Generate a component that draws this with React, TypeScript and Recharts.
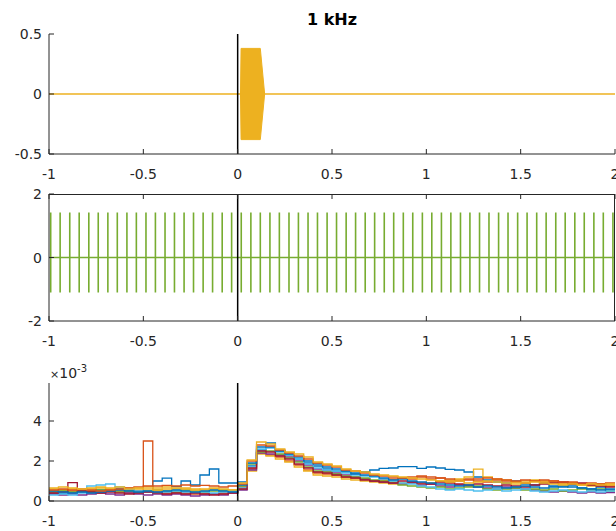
import { Area, ComposedChart, Line, ReferenceLine, XAxis, YAxis } from "recharts";

const FONT = "'DejaVu Sans', sans-serif";
const AXIS = "#262626";
const X_TICKS = [-1, -0.5, 0, 0.5, 1, 1.5, 2];

// panel 1: 1 kHz tone burst (drawn as its envelope band)
const TONE_T = [-1, 0.015, 0.018, 0.12, 0.143, 2];
const TONE_LOW = [0, 0, -0.38, -0.38, 0, 0];
const TONE_HIGH = [0, 0, 0.38, 0.38, 0, 0];

// panel 2: click train
const PULSE_T = [
  -0.991, -0.941, -0.89, -0.84, -0.789, -0.739, -0.688, -0.638, -0.587, -0.537,
  -0.486, -0.436, -0.385, -0.335, -0.284, -0.234, -0.183, -0.133, -0.082, -0.032,
  0.019, 0.07, 0.12, 0.171, 0.221, 0.272, 0.322, 0.373, 0.423, 0.474,
  0.524, 0.575, 0.625, 0.676, 0.726, 0.777, 0.827, 0.878, 0.928, 0.979,
  1.029, 1.08, 1.13, 1.181, 1.231, 1.282, 1.332, 1.383, 1.433, 1.484,
  1.534, 1.585, 1.635, 1.686, 1.736, 1.787, 1.837, 1.888, 1.938, 1.989,
];
const PULSE_TOP = 1.42;
const PULSE_BOTTOM = -1.1;

// panel 3: per-trial histograms (units of 1e-3), 0.05 s bins
const BIN_EDGES = [
  -1, -0.95, -0.9, -0.85, -0.8, -0.75, -0.7, -0.65, -0.6, -0.55,
  -0.5, -0.45, -0.4, -0.35, -0.3, -0.25, -0.2, -0.15, -0.1, -0.05,
  0, 0.05, 0.1, 0.15, 0.2, 0.25, 0.3, 0.35, 0.4, 0.45,
  0.5, 0.55, 0.6, 0.65, 0.7, 0.75, 0.8, 0.85, 0.9, 0.95,
  1, 1.05, 1.1, 1.15, 1.2, 1.25, 1.3, 1.35, 1.4, 1.45,
  1.5, 1.55, 1.6, 1.65, 1.7, 1.75, 1.8, 1.85, 1.9, 1.95, 2,
];

const TRIAL_1 = [0.4, 0.38, 0.42, 0.45, 0.5, 0.55, 0.5, 0.6, 0.55, 0.5, 0.45, 1.0, 1.14, 0.72, 1.0, 0.8, 1.3, 1.6, 0.9, 0.9,
  0.95, 1.75, 2.55, 2.9, 2.5, 2.3, 2.1, 1.9, 1.75, 1.6, 1.5, 1.45, 1.4, 1.45, 1.55, 1.63, 1.65, 1.72, 1.72, 1.63,
  1.7, 1.65, 1.58, 1.55, 1.45, 1.2, 1.05, 0.95, 0.9, 1.0, 0.85, 0.8, 0.9, 0.75, 0.7, 0.8, 0.65, 0.6, 0.7, 0.55];
const TRIAL_2 = [0.5, 0.55, 0.5, 0.45, 0.5, 0.45, 0.55, 0.5, 0.45, 0.5, 3.0, 0.45, 0.4, 0.45, 0.4, 0.35, 0.4, 0.35, 0.4, 0.45,
  0.7, 1.6, 2.4, 2.3, 2.2, 2.0, 1.8, 1.55, 1.4, 1.35, 1.3, 1.2, 1.15, 1.1, 1.0, 1.05, 1.1, 1.15, 1.1, 1.2,
  1.1, 1.15, 1.0, 1.05, 1.1, 1.0, 0.95, 1.05, 1.0, 0.95, 0.9, 1.0, 0.95, 1.0, 0.9, 0.95, 0.85, 0.8, 0.85, 0.75];
const TRIAL_3 = [0.6, 0.55, 0.6, 0.55, 0.6, 0.65, 0.6, 0.55, 0.65, 0.6, 0.7, 0.65, 0.7, 0.6, 0.65, 0.6, 0.55, 0.6, 0.5, 0.55,
  0.6, 1.5, 2.35, 2.25, 2.1, 1.95, 1.7, 1.5, 1.3, 1.25, 1.2, 1.1, 1.05, 1.0, 0.95, 0.9, 0.85, 0.9, 0.95, 0.85,
  0.9, 1.0, 1.05, 1.1, 1.2, 1.59, 1.2, 1.1, 1.05, 0.95, 1.0, 1.05, 1.0, 0.95, 0.85, 0.9, 0.8, 0.75, 0.85, 0.8];
const TRIAL_4 = [0.35, 0.3, 0.35, 0.3, 0.35, 0.4, 0.35, 0.3, 0.4, 0.35, 0.3, 0.35, 0.3, 0.35, 0.3, 0.25, 0.3, 0.35, 0.3, 0.4,
  0.55, 1.55, 2.4, 2.35, 2.3, 2.2, 2.0, 1.8, 1.6, 1.5, 1.4, 1.3, 1.2, 1.1, 1.0, 0.95, 0.9, 0.85, 0.9, 0.8,
  0.85, 0.75, 0.7, 0.8, 0.75, 0.7, 0.65, 0.6, 0.7, 0.65, 0.6, 0.55, 0.5, 0.45, 0.5, 0.45, 0.4, 0.45, 0.4, 0.42];
const TRIAL_5 = [0.45, 0.5, 0.45, 0.5, 0.45, 0.55, 0.5, 0.45, 0.5, 0.45, 0.5, 0.55, 0.5, 0.45, 0.55, 0.5, 0.45, 0.5, 0.55, 0.5,
  0.75, 1.85, 2.45, 2.5, 2.35, 2.15, 1.95, 1.7, 1.5, 1.45, 1.35, 1.25, 1.2, 1.15, 1.05, 1.0, 0.95, 0.8, 0.75, 0.7,
  0.65, 0.7, 0.6, 0.65, 0.7, 0.75, 0.6, 0.55, 0.6, 0.65, 0.55, 0.6, 0.55, 0.6, 0.5, 0.55, 0.6, 0.55, 0.6, 0.5];
const TRIAL_6 = [0.3, 0.35, 0.3, 0.4, 0.75, 0.8, 0.85, 0.7, 0.6, 0.5, 0.45, 0.4, 0.45, 0.5, 0.45, 0.4, 0.45, 0.4, 0.45, 0.5,
  0.65, 1.7, 2.6, 2.65, 2.45, 2.3, 2.1, 1.85, 1.65, 1.55, 1.5, 1.4, 1.3, 1.25, 1.2, 1.1, 1.0, 0.9, 0.85, 0.75,
  0.7, 0.6, 0.55, 0.6, 0.55, 0.5, 0.55, 0.6, 0.5, 0.55, 0.6, 0.5, 0.45, 0.5, 0.55, 0.5, 0.45, 0.5, 0.45, 0.5];
const TRIAL_7 = [0.4, 0.45, 0.92, 0.5, 0.45, 0.4, 0.45, 0.4, 0.35, 0.4, 0.45, 0.4, 0.35, 0.4, 0.35, 0.4, 0.35, 0.3, 0.35, 0.4,
  0.6, 1.65, 2.5, 2.45, 2.25, 2.1, 1.85, 1.65, 1.45, 1.4, 1.3, 1.2, 1.15, 1.05, 1.0, 0.95, 0.9, 1.0, 0.95, 0.9,
  0.85, 0.95, 0.9, 0.85, 0.8, 0.85, 0.8, 0.75, 0.8, 0.75, 0.7, 0.8, 0.85, 0.9, 0.95, 0.85, 0.9, 0.8, 0.75, 0.7];
const TRIAL_8 = [0.5, 0.45, 0.4, 0.45, 0.4, 0.45, 0.5, 0.55, 0.5, 0.45, 0.5, 0.45, 0.5, 0.55, 0.5, 0.45, 0.5, 0.55, 0.5, 0.45,
  0.8, 1.9, 2.7, 2.7, 2.5, 2.35, 2.2, 2.0, 1.85, 1.7, 1.6, 1.5, 1.35, 1.3, 1.25, 1.15, 1.05, 1.1, 1.0, 0.95,
  0.9, 0.85, 0.8, 0.75, 0.8, 0.7, 0.75, 0.7, 0.65, 0.7, 0.75, 0.7, 0.65, 0.7, 0.75, 0.7, 0.65, 0.6, 0.55, 0.6];
const TRIAL_9 = [0.55, 0.6, 0.55, 0.6, 0.55, 0.5, 0.55, 0.6, 0.65, 0.7, 0.75, 0.75, 0.78, 0.75, 0.8, 0.75, 0.78, 0.75, 0.7, 0.75,
  0.85, 2.0, 2.8, 2.75, 2.55, 2.4, 2.25, 2.1, 1.9, 1.8, 1.7, 1.55, 1.5, 1.4, 1.3, 1.25, 1.2, 1.15, 1.2, 1.25,
  1.2, 1.15, 1.1, 1.0, 1.05, 1.1, 1.15, 1.1, 1.05, 1.0, 1.05, 1.0, 1.05, 1.0, 0.95, 0.9, 0.85, 0.9, 0.85, 0.9];
const TRIAL_10 = [0.65, 0.7, 0.65, 0.6, 0.65, 0.7, 0.65, 0.7, 0.6, 0.65, 0.6, 0.55, 0.6, 0.65, 0.6, 0.55, 0.6, 0.65, 0.6, 0.55,
  0.9, 2.05, 2.95, 2.85, 2.6, 2.45, 2.35, 2.2, 1.95, 1.85, 1.75, 1.6, 1.5, 1.45, 1.35, 1.3, 1.25, 1.2, 1.15, 1.1,
  1.05, 1.0, 0.95, 1.0, 0.9, 0.95, 1.0, 0.95, 0.9, 0.85, 0.9, 0.95, 0.9, 0.85, 0.8, 0.85, 0.8, 0.85, 0.8, 0.85];

const TRIALS = [TRIAL_1, TRIAL_2, TRIAL_3, TRIAL_4, TRIAL_5, TRIAL_6, TRIAL_7, TRIAL_8, TRIAL_9, TRIAL_10];
const TRIAL_COLORS = [
  "#0072BD", "#D95319", "#EDB120", "#7E2F8E", "#77AC30",
  "#4DBEEE", "#A2142F", "#0072BD", "#D95319", "#EDB120",
];

const toneRows = TONE_T.map((t, i) => ({ t, band: [TONE_LOW[i], TONE_HIGH[i]] }));

const pulseRows = [
  { t: -1, v: 0 },
  ...PULSE_T.flatMap((t) => [
    { t, v: 0 },
    { t, v: PULSE_TOP },
    { t, v: PULSE_BOTTOM },
    { t, v: 0 },
  ]),
  { t: 2, v: 0 },
];

// stepAfter needs the last bin value repeated at the closing edge
const histRows = BIN_EDGES.map((t, i) => {
  const row: Record<string, number> = { t };
  TRIALS.forEach((vals, k) => {
    row[`s${k}`] = vals[Math.min(i, vals.length - 1)];
  });
  return row;
});

// panel geometry (page px) shared by the charts and the frame overlay
const PLOT_LEFT = 49;
const PLOT_RIGHT = 615;
const MID_TOP = 194;
const MID_BOTTOM = 321;
const tickX = (t: number) => PLOT_LEFT + ((t + 1) / 3) * (PLOT_RIGHT - PLOT_LEFT);

// MATLAB-style ticks: short marks pointing into the plot, label outside
function XTick(props: any) {
  const { x, y, payload } = props;
  return (
    <g>
      <line x1={x} y1={y} x2={x} y2={y - 5} stroke={AXIS} strokeWidth={1} />
      <text x={x} y={y + 20} dy="0.36em" textAnchor="middle" fill={AXIS} fontSize={14} fontFamily={FONT}>
        {payload.value}
      </text>
    </g>
  );
}

function YTick(props: any) {
  const { x, y, payload } = props;
  return (
    <g>
      <line x1={x} y1={y} x2={x + 5} y2={y} stroke={AXIS} strokeWidth={1} />
      <text x={x - 7} y={y} dy="0.36em" textAnchor="end" fill={AXIS} fontSize={14} fontFamily={FONT}>
        {payload.value}
      </text>
    </g>
  );
}

const xAxisBase = {
  type: "number" as const,
  dataKey: "t",
  domain: [-1, 2],
  ticks: X_TICKS,
  interval: 0 as const,
  allowDataOverflow: true,
  stroke: AXIS,
  tickLine: false,
  tickSize: 0,
  tickMargin: 0,
  tick: XTick,
};

const yAxisBase = {
  type: "number" as const,
  interval: 0 as const,
  allowDataOverflow: true,
  width: PLOT_LEFT,
  stroke: AXIS,
  tickLine: false,
  tickSize: 0,
  tickMargin: 0,
  tick: YTick,
};

export default function App() {
  return (
    <div
      style={{
        position: "absolute",
        left: 0,
        top: 0,
        width: 616,
        height: 531,
        background: "#fff",
        overflow: "hidden",
        fontFamily: FONT,
      }}
    >
      <div style={{ position: "absolute", left: 0, top: 0 }}>
        <ComposedChart width={616} height={190} data={toneRows} margin={{ top: 34, right: 1, bottom: 10, left: 0 }}>
          <XAxis {...xAxisBase} height={26} />
          <YAxis {...yAxisBase} domain={[-0.5, 0.5]} ticks={[-0.5, 0, 0.5]} />
          <Area
            dataKey="band"
            type="linear"
            stroke="#EDB120"
            strokeWidth={1}
            fill="#EDB120"
            fillOpacity={1}
            dot={false}
            activeDot={false}
            isAnimationActive={false}
          />
          <ReferenceLine x={0} stroke="#000" strokeWidth={1.5} />
        </ComposedChart>
      </div>

      <div style={{ position: "absolute", left: 0, top: 180 }}>
        <ComposedChart width={616} height={180} data={pulseRows} margin={{ top: MID_TOP - 180, right: 1, bottom: 10, left: 0 }}>
          <XAxis {...xAxisBase} height={350 - MID_BOTTOM - 10 + 10} />
          <YAxis {...yAxisBase} domain={[-2, 2]} ticks={[-2, 0, 2]} />
          <Line
            dataKey="v"
            type="linear"
            stroke="#77AC30"
            strokeWidth={1.6}
            dot={false}
            activeDot={false}
            isAnimationActive={false}
          />
          <ReferenceLine x={0} stroke="#000" strokeWidth={1.5} />
        </ComposedChart>
      </div>

      <div style={{ position: "absolute", left: 0, top: 350 }}>
        <ComposedChart width={616} height={181} data={histRows} margin={{ top: 33, right: 1, bottom: 0, left: 0 }}>
          <XAxis {...xAxisBase} height={30} />
          <YAxis {...yAxisBase} domain={[0, 5.9]} ticks={[0, 2, 4]} />
          {TRIALS.map((_, k) => (
            <Line
              key={k}
              dataKey={`s${k}`}
              type="stepAfter"
              stroke={TRIAL_COLORS[k]}
              strokeWidth={1.3}
              dot={false}
              activeDot={false}
              isAnimationActive={false}
            />
          ))}
          <ReferenceLine x={0} stroke="#000" strokeWidth={1.5} />
        </ComposedChart>
      </div>

      <svg
        width={616}
        height={531}
        style={{ position: "absolute", left: 0, top: 0, pointerEvents: "none" }}
      >
        {/* box frame of the middle panel (top and right edges) */}
        <line x1={PLOT_LEFT} y1={MID_TOP + 0.5} x2={PLOT_RIGHT} y2={MID_TOP + 0.5} stroke={AXIS} strokeWidth={1} />
        <line x1={PLOT_RIGHT - 0.5} y1={MID_TOP} x2={PLOT_RIGHT - 0.5} y2={MID_BOTTOM} stroke={AXIS} strokeWidth={1} />
        {X_TICKS.map((t) => (
          <line key={t} x1={tickX(t)} y1={MID_TOP} x2={tickX(t)} y2={MID_TOP + 5} stroke={AXIS} strokeWidth={1} />
        ))}
        <text x={332} y={25} textAnchor="middle" fontFamily={FONT} fontWeight="bold" fontSize={16} fill="#000">
          1 kHz
        </text>
        <text x={50} y={378} fontFamily={FONT} fontSize={14} fill={AXIS}>
          <tspan fontSize={11}>×</tspan>
          <tspan>10</tspan>
          <tspan fontSize={10} dy={-6}>-3</tspan>
        </text>
      </svg>
    </div>
  );
}
